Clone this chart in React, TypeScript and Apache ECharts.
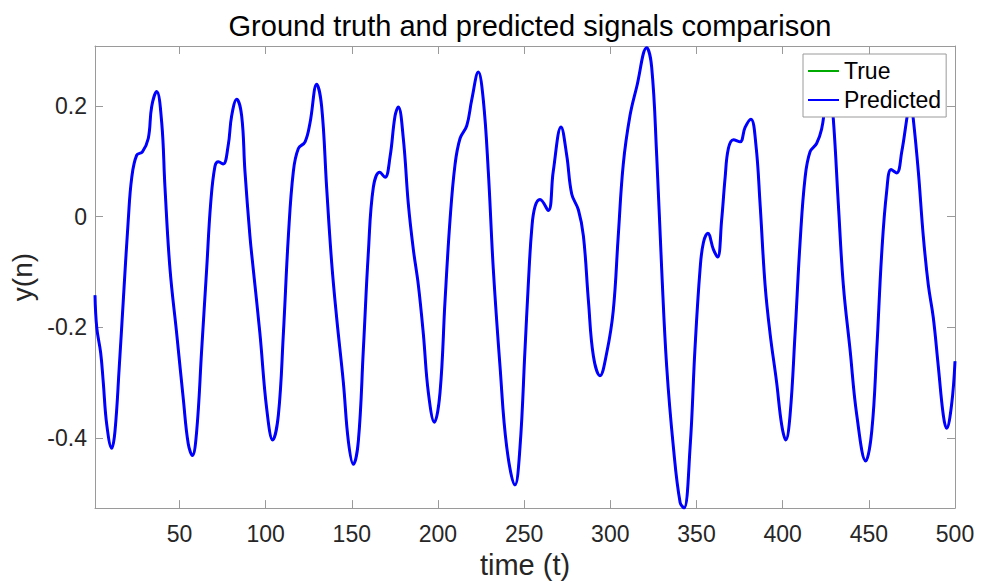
import React, { useEffect, useRef } from "react";
import * as echarts from "echarts";

// Time positions (t) of the points
const timeSteps: number[] = [
  1, 2, 4.3, 5.8, 7.8, 10.7, 12.6, 15.1, 17.4, 20.3, 22.3, 25.2, 28.5, 31.9, 33.9, 36.8, 39.7, 41.6, 44.5, 48.4,
  52.2, 55.1, 57.5, 60, 62.9, 65.8, 68.1, 70.6, 72.6, 75.4, 78.3, 80.3, 83.2, 86.1, 88, 90.9, 92.8, 96.7,
  100.6, 104.1, 107.4, 110.3, 113.2, 116.1, 119, 122.9, 125.8, 129.6, 132.5, 135.4, 138.3, 141.2, 145.1, 148,
  150.9, 153.8, 156.7, 159.6, 162.5, 166.2, 169.3, 172.2, 175.1, 177, 179.9, 182.8, 185.7, 188.6, 191.5, 194.4,
  197.9, 201.2, 204.1, 207, 209.9, 212.8, 216.7, 219.6, 223.4, 226.3, 229.2, 232.1, 236, 239.9, 244.7, 247.6,
  250.5, 252.4, 254.4, 256.3, 259.2, 264, 266.9, 271.4, 274.7, 277.6, 281.5, 284.4, 287.3, 290.2, 294, 297.9,
  301.7, 304.6, 307.5, 311.4, 315.3, 321.1, 324, 326.9, 329.8, 332.7, 336.6, 340.5, 342.8, 346.3, 349.1, 352.1,
  354, 356.6, 359.8, 362.3, 364.6, 366.6, 368.5, 371.4, 375.3, 378.2, 381.6, 384.5, 386.9, 389.8, 392.7, 396.5,
  399.4, 401.8, 404.3, 407.2, 410.1, 413, 415.9, 419.7, 422.6, 424.6, 427, 429.4, 432.3, 435.2, 439.1, 443,
  448.2, 451.7, 454.6, 457.5, 460.4, 462.9, 466.2, 469.1, 472, 474, 475.8, 478.7, 481.6, 484.5, 487.4, 490.3,
  493.2, 495.1, 498, 500,
];

// Predicted signal y(n) at those times
const predictedValues: number[] = [
  -0.142, -0.2, -0.246, -0.299, -0.375, -0.418, -0.387, -0.27, -0.152, -0.006, 0.07, 0.111, 0.117, 0.141, 0.199, 0.226, 0.17, 0.053, -0.094, -0.211,
  -0.328, -0.41, -0.431, -0.387, -0.24, -0.094, 0.023, 0.091, 0.099, 0.095, 0.129, 0.182, 0.212, 0.182, 0.082, -0.035, -0.094, -0.211,
  -0.346, -0.403, -0.358, -0.211, -0.035, 0.082, 0.123, 0.135, 0.17, 0.239, 0.199, 0.053, -0.082, -0.182, -0.299, -0.405,
  -0.447, -0.405, -0.24, -0.065, 0.053, 0.08, 0.071, 0.108, 0.182, 0.198, 0.141, 0.023, -0.059, -0.123, -0.211, -0.317,
  -0.371, -0.317, -0.152, -0.006, 0.094, 0.141, 0.164, 0.211, 0.261, 0.211, 0.082, -0.094, -0.27, -0.416, -0.484, -0.416,
  -0.24, -0.123, -0.023, 0.018, 0.031, 0.011, 0.082, 0.162, 0.111, 0.041, 0.012, -0.035, -0.152, -0.252, -0.287, -0.246,
  -0.17, -0.035, 0.094, 0.182, 0.234, 0.305, 0.27, 0.111, -0.094, -0.27, -0.416, -0.516, -0.526, -0.416, -0.24, -0.094,
  -0.047, -0.03, -0.059, -0.073, -0.006, 0.07, 0.123, 0.139, 0.135, 0.161, 0.176, 0.129, 0.023, -0.123, -0.211, -0.299,
  -0.375, -0.403, -0.358, -0.211, -0.047, 0.07, 0.117, 0.132, 0.158, 0.199, 0.245, 0.176, 0.023, -0.123, -0.24, -0.358,
  -0.441, -0.387, -0.24, -0.065, 0.047, 0.085, 0.079, 0.117, 0.176, 0.215, 0.176, 0.082, -0.035, -0.123, -0.182, -0.27,
  -0.358, -0.382, -0.34, -0.261,
];

// The true signal is hidden under the prediction in the reference (same curve)
const trueValues: number[] = predictedValues.slice();

const xTicks: number[] = [50, 100, 150, 200, 250, 300, 350, 400, 450, 500];
const yTicks: number[] = [-0.4, -0.2, 0, 0.2];

const xMin = 1;
const xMax = 500;
const yMin = -0.526;
const yMax = 0.308;

const FONT = "'Liberation Sans', Arial, Helvetica, sans-serif";
const AXIS_COLOR = "#9a9a9a";
const TEXT_COLOR = "#262626";

export default function App() {
  const ref = useRef<HTMLDivElement>(null);

  useEffect(() => {
    if (!ref.current) return;
    const chart = echarts.init(ref.current, undefined, { renderer: "svg" });

    const predPts = timeSteps.map((t, i) => [t, predictedValues[i]]);
    const truePts = timeSteps.map((t, i) => [t, trueValues[i]]);

    const axisLine = { show: true, onZero: false, lineStyle: { color: AXIS_COLOR, width: 1 } };
    const tickStyle = { color: AXIS_COLOR, width: 1 };

    chart.setOption({
      animation: false,
      backgroundColor: "#ffffff",
      textStyle: { fontFamily: FONT },
      title: {
        text: "Ground truth and predicted signals comparison",
        left: 525,
        top: 6,
        textAlign: "center",
        textStyle: { fontSize: 29, fontWeight: "normal", color: "#000", fontFamily: FONT },
      },
      grid: { left: 95, right: 26, top: 46, bottom: 65, containLabel: false },
      legend: {
        data: ["True", "Predicted"],
        orient: "vertical",
        left: 803,
        top: 54,
        padding: [4, 5, 4, 4],
        itemGap: 3,
        itemWidth: 31,
        itemHeight: 14,
        borderColor: AXIS_COLOR,
        borderWidth: 1,
        borderRadius: 0,
        backgroundColor: "#ffffff",
        itemStyle: { opacity: 0 },
        textStyle: { fontSize: 23, color: "#000", lineHeight: 26, fontFamily: FONT },
      },
      xAxis: [
        {
          type: "value",
          min: xMin,
          max: xMax,
          position: "bottom",
          axisLine,
          axisTick: { show: true, inside: true, length: 8, customValues: xTicks, lineStyle: tickStyle },
          axisLabel: { customValues: xTicks, fontSize: 23, color: TEXT_COLOR, margin: 14, fontFamily: FONT },
          splitLine: { show: false },
          name: "time (t)",
          nameLocation: "middle",
          nameGap: 37,
          nameTextStyle: { fontSize: 29, color: TEXT_COLOR, fontFamily: FONT },
        },
        {
          type: "value",
          min: xMin,
          max: xMax,
          position: "top",
          axisLine,
          axisTick: { show: true, inside: true, length: 8, customValues: xTicks, lineStyle: tickStyle },
          axisLabel: { show: false },
          splitLine: { show: false },
        },
      ],
      yAxis: [
        {
          type: "value",
          min: yMin,
          max: yMax,
          position: "left",
          axisLine,
          axisTick: { show: true, inside: true, length: 8, customValues: yTicks, lineStyle: tickStyle },
          axisLabel: { customValues: yTicks, fontSize: 23, color: TEXT_COLOR, margin: 8, fontFamily: FONT },
          splitLine: { show: false },
          name: "y(n)",
          nameLocation: "middle",
          nameGap: 54,
          nameRotate: 90,
          nameTextStyle: { fontSize: 28, color: TEXT_COLOR, fontFamily: FONT },
        },
        {
          type: "value",
          min: yMin,
          max: yMax,
          position: "right",
          axisLine,
          axisTick: { show: true, inside: true, length: 8, customValues: yTicks, lineStyle: tickStyle },
          axisLabel: { show: false },
          splitLine: { show: false },
        },
      ],
      series: [
        {
          name: "True",
          type: "line",
          xAxisIndex: 0,
          yAxisIndex: 0,
          data: truePts,
          showSymbol: false,
          symbol: "none",
          smooth: 0.4,
          color: "#00aa00",
          lineStyle: { color: "#00aa00", width: 1.5 },
          z: 1,
        },
        {
          name: "Predicted",
          type: "line",
          xAxisIndex: 0,
          yAxisIndex: 0,
          data: predPts,
          showSymbol: false,
          symbol: "none",
          smooth: 0.4,
          color: "#0000ff",
          lineStyle: { color: "#0000ff", width: 3 },
          z: 2,
        },
      ],
    });

    return () => {
      chart.dispose();
    };
  }, []);

  return (
    <div
      ref={ref}
      style={{ position: "fixed", left: 0, top: 0, width: 981, height: 584, background: "#fff" }}
    />
  );
}
